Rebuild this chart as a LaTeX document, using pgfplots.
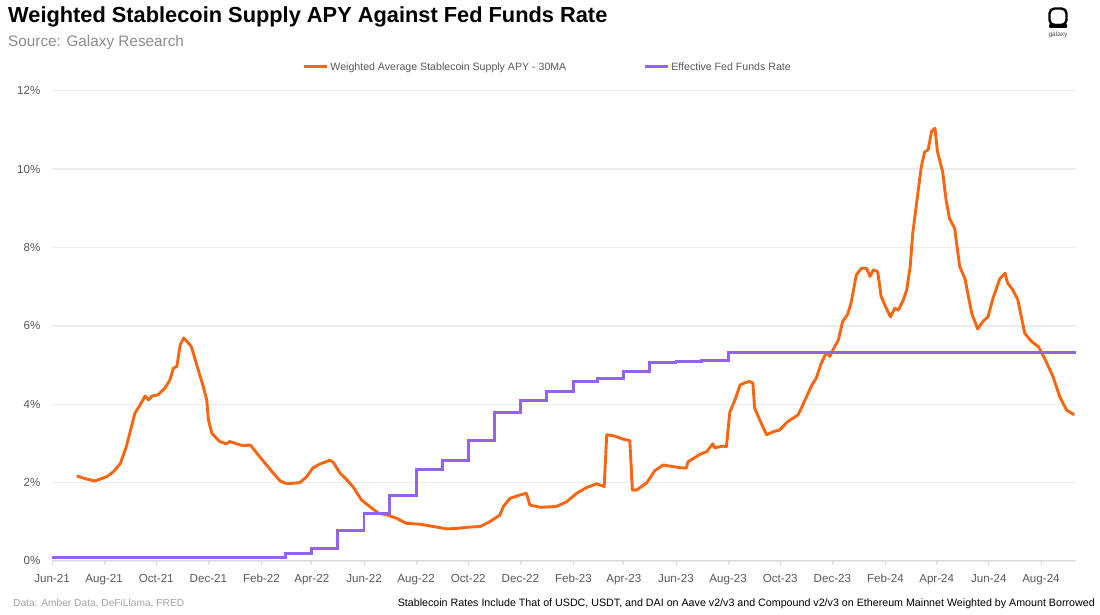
\documentclass[border=0pt]{standalone}
\usepackage{pgfplots}
\pgfplotsset{compat=1.18}
\usepackage{pgfplotstable}
\usepackage{fontspec}
\setmainfont{Liberation Sans}
\definecolor{orng}{RGB}{250,102,15}
\definecolor{purp}{RGB}{146,100,238}
\definecolor{tickgray}{RGB}{89,89,89}
\definecolor{gridgray}{RGB}{236,236,236}
\definecolor{axgray}{RGB}{217,217,217}
\definecolor{subgray}{RGB}{140,140,140}

\pgfplotstableread{
d v
29 2.17
39 2.10
50 2.04
64 2.15
72 2.28
80 2.49
87 2.92
97 3.77
103 3.98
109 4.21
113 4.11
117 4.21
124 4.24
132 4.41
138 4.62
142 4.92
146 4.96
150 5.51
154 5.69
158 5.60
163 5.47
171 4.88
177 4.45
181 4.11
183 3.60
187 3.26
196 3.05
204 2.99
208 3.05
216 2.99
224 2.94
232 2.96
243 2.66
259 2.24
267 2.04
275 1.97
290 2.00
298 2.15
305 2.37
313 2.47
325 2.57
329 2.52
337 2.24
345 2.07
352 1.90
362 1.56
374 1.35
382 1.22
393 1.17
403 1.09
415 0.96
430 0.94
446 0.88
462 0.82
473 0.83
485 0.86
501 0.88
512 1.00
524 1.17
528 1.39
536 1.60
547 1.68
555 1.73
559 1.43
571 1.37
590 1.39
602 1.51
614 1.73
625 1.87
637 1.97
646 1.90
649 3.22
658 3.19
668 3.11
676 3.07
679 1.81
684 1.81
696 2.00
705 2.30
715 2.45
723 2.42
735 2.38
742 2.37
744 2.53
758 2.72
766 2.79
773 2.99
775 2.89
785 2.93
789 2.92
793 3.80
799 4.11
805 4.49
811 4.55
816 4.58
820 4.54
822 3.90
828 3.60
836 3.22
844 3.30
851 3.34
861 3.56
873 3.73
881 4.11
889 4.49
894 4.66
900 5.05
906 5.32
910 5.22
914 5.40
920 5.64
925 6.11
931 6.30
935 6.60
941 7.30
947 7.47
953 7.47
957 7.26
961 7.43
966 7.38
970 6.75
976 6.45
981 6.23
986 6.45
990 6.40
996 6.66
1000 6.92
1004 7.51
1007 8.36
1011 9.04
1017 10.06
1021 10.44
1025 10.49
1029 10.96
1033 11.04
1036 10.44
1042 9.93
1046 9.21
1050 8.74
1056 8.49
1062 7.51
1068 7.21
1076 6.32
1083 5.92
1089 6.11
1095 6.23
1101 6.71
1109 7.21
1115 7.34
1118 7.09
1124 6.92
1130 6.66
1138 5.81
1146 5.60
1154 5.47
1159 5.26
1163 5.09
1171 4.71
1179 4.19
1187 3.85
1196 3.73
}\apytable

\pgfplotstableread{
d v
0 0.08
30 0.10
61 0.09
92 0.08
122 0.08
153 0.08
183 0.08
214 0.08
245 0.08
273 0.20
304 0.33
334 0.77
365 1.21
395 1.68
426 2.33
457 2.56
487 3.08
518 3.78
548 4.10
579 4.33
610 4.57
638 4.65
669 4.83
699 5.06
730 5.08
760 5.12
791 5.33
1198 5.33
}\fedtable

\begin{document}
\begin{tikzpicture}[x=1pt,y=1pt]
\useasboundingbox (0pt,0pt) rectangle (1100pt,615pt);
\node[anchor=base west, inner sep=0, font=\fontsize{21.8}{24}\selectfont\bfseries] at (8pt,592pt) {Weighted Stablecoin Supply APY Against Fed Funds Rate};
\node[anchor=base west, inner sep=0, font=\fontsize{15.3}{18}\selectfont, text=subgray] at (8pt,568.3pt) {Source: Galaxy Research};
% logo
\draw[line width=2.4pt, rounded corners=5pt] (1049.5pt,590pt) rectangle (1066.5pt,606.5pt);
\fill[rounded corners=1pt] (1049pt,587pt) rectangle (1067pt,591pt);
\node[font=\fontsize{6.5}{7}\selectfont, text=black!70] at (1058pt,580.5pt) {galaxy};
% footer
\node[anchor=base west, inner sep=0, font=\fontsize{10.2}{12}\selectfont, text=subgray!80] at (13pt,8pt) {Data: Amber Data, DeFiLlama, FRED};
\node[anchor=base east, inner sep=0] at (1095pt,8pt) {\resizebox{697pt}{!}{Stablecoin Rates Include That of USDC, USDT, and DAI on Aave v2/v3 and Compound v2/v3 on Ethereum Mainnet Weighted by Amount Borrowed}};

\begin{axis}[
  at={(52pt,54pt)}, anchor=south west, scale only axis,
  width=1024pt, height=470.3pt,
  xmin=0, xmax=1198, ymin=0, ymax=12,
  axis x line*=bottom, axis y line*=left,
  x axis line style={-, draw=axgray, line width=1pt},
  y axis line style={draw=none},
  ymajorgrids, grid style={draw=gridgray, line width=1.4pt},
  ytick={0,2,4,6,8,10,12},
  yticklabels={0\%,2\%,4\%,6\%,8\%,10\%,12\%},
  xtick={0,61,122,183,245,304,365,426,487,548,610,669,730,791,852,913,975,1035,1096,1157},
  xticklabels={Jun-21,Aug-21,Oct-21,Dec-21,Feb-22,Apr-22,Jun-22,Aug-22,Oct-22,Dec-22,Feb-23,Apr-23,Jun-23,Aug-23,Oct-23,Dec-23,Feb-24,Apr-24,Jun-24,Aug-24},
  tick align=outside,
  major tick length=4pt,
  xtick style={draw=axgray, line width=0.8pt},
  ytick style={draw=none},
  ticklabel style={font=\fontsize{11.6}{13}\selectfont, text=tickgray},
  xticklabel style={yshift=-6pt},
  yticklabel style={xshift=-4pt},
  legend columns=2,
  legend style={at={(axis description cs:0.484,1)}, anchor=center, yshift=23.7pt,
    draw=none, fill=none, font=\fontsize{10.6}{12}\selectfont, text=tickgray,
    /tikz/every even column/.append style={column sep=75pt}},
  legend image code/.code={\draw[#1, line width=3pt] (0pt,0pt) -- (23pt,0pt);},
]
\addplot[color=orng, line width=2.9pt, line join=round] table[x=d,y=v] {\apytable};
\addlegendentry{Weighted Average Stablecoin Supply APY - 30MA}
\addplot[color=purp, line width=2.9pt, const plot] table[x=d,y=v] {\fedtable};
\addlegendentry{Effective Fed Funds Rate}
\end{axis}
\end{tikzpicture}
\end{document}
